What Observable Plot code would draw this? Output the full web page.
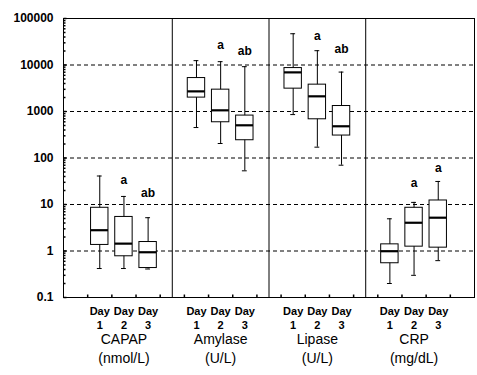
<!DOCTYPE html>
<html><head><meta charset="utf-8">
<script src="https://cdn.jsdelivr.net/npm/d3@7"></script>
<script src="https://cdn.jsdelivr.net/npm/@observablehq/plot@0.6"></script>
<style>
html,body{margin:0;padding:0;background:#fff;}
</style></head><body><div id="chart"></div>
<script>
// ---- data ----
const panels = ["CAPAP", "Amylase", "Lipase", "CRP"];
const units = ["(nmol/L)", "(U/L)", "(U/L)", "(mg/dL)"];
const days = ["1", "2", "3"];
const dayWord = "Day";
// box statistics, order: CAPAP d1..d3, Amylase d1..d3, Lipase d1..d3, CRP d1..d3
const lo  = [0.42, 0.42, 0.41,   452, 205, 53,     858, 171, 70,      0.2, 0.3, 0.62];
const q1  = [1.35, 0.77, 0.43,   1990, 587, 241,   3100, 680, 304,    0.545, 1.24, 1.18];
const med = [2.8, 1.44, 0.94,    2710, 1060, 505,  6940, 2120, 481,   0.99, 4.05, 5.2];
const q3  = [8.5, 5.4, 1.56,     5240, 2950, 817,  8590, 3780, 1312,  1.39, 8.5, 12.2];
const hi  = [41, 14.9, 5.2,      12400, 11800, 9200, 47000, 20300, 7040, 4.93, 11.1, 31.3];
const letters  = ["", "a", "ab",  "", "a", "ab",  "", "a", "ab",  "", "a", "a"];
const letterAt = [null, 33, 17.6, null, 26300, 19900, null, 41700, 21600, null, 28.4, 61.4];
const yTicks = [0.1, 1, 10, 100, 1000, 10000, 100000];
const gridAt = [1, 10, 100, 1000, 10000];

// ---- build tables ----
const rows = [];
panels.forEach((p, pi) => days.forEach((d, di) => {
  const i = pi * 3 + di;
  rows.push({panel: p, day: d, pos: pi * 4 + di + 1.5,
    lo: lo[i], q1: q1[i], med: med[i], q3: q3[i], hi: hi[i],
    letter: letters[i], letterAt: letterAt[i]});
}));
const panelRows = panels.map((p, pi) => ({name: p, unit: units[pi], pos: pi * 4 + 2.5}));
const dividers = panels.slice(1).map((p, pi) => (pi + 1) * 4 + 0.5);
const xTicks = d3.range(1, 17);
const minor = [];
for (let e = -1; e < 5; e++) for (let m = 2; m <= 9; m++) minor.push(+(m * Math.pow(10, e)).toPrecision(3));

const font = "'Liberation Sans', Arial, Helvetica, sans-serif";
const tickUp = {draw(ctx) { ctx.moveTo(0, 0); ctx.lineTo(0, -3); }};
const tickRight = len => ({draw(ctx) { ctx.moveTo(0, 0); ctx.lineTo(len, 0); }});
const bw = 0.36, cw = 0.1;

const chart = Plot.plot({
  width: 477, height: 375,
  marginLeft: 63, marginRight: 3, marginTop: 18, marginBottom: 78,
  style: {fontFamily: font, background: "#fff", color: "#000"},
  x: {domain: [0, 17], axis: null},
  y: {type: "log", domain: [0.1, 100000], axis: null},
  marks: [
    Plot.ruleY(gridAt, {stroke: "#000", strokeDasharray: "4,3"}),
    Plot.ruleX(dividers, {stroke: "#000"}),
    Plot.dot(xTicks, {x: d => d, frameAnchor: "bottom", symbol: tickUp, stroke: "#000", fill: "none"}),
    Plot.dot(minor, {y: d => d, frameAnchor: "left", symbol: tickRight(2), stroke: "#000", fill: "none"}),
    Plot.dot(yTicks, {y: d => d, frameAnchor: "left", symbol: tickRight(3), stroke: "#000", fill: "none"}),
    Plot.axisY({ticks: yTicks, tickSize: 0, tickPadding: 10, tickFormat: d => String(d),
      fontWeight: "bold", fontSize: 12, fill: "#000"}),
    Plot.frame({stroke: "#000"}),
    Plot.ruleX(rows, {x: "pos", y1: "lo", y2: "hi", stroke: "#000"}),
    Plot.ruleY(rows, {x1: d => d.pos - cw, x2: d => d.pos + cw, y: "hi", stroke: "#000"}),
    Plot.ruleY(rows, {x1: d => d.pos - cw, x2: d => d.pos + cw, y: "lo", stroke: "#000"}),
    Plot.rect(rows, {x1: d => d.pos - bw, x2: d => d.pos + bw, y1: "q1", y2: "q3", fill: "#fff", stroke: "#000"}),
    Plot.ruleY(rows, {x1: d => d.pos - bw, x2: d => d.pos + bw, y: "med", stroke: "#000", strokeWidth: 2.2}),
    Plot.text(rows.filter(d => d.letter), {x: "pos", y: "letterAt", text: "letter",
      fontWeight: "bold", fontSize: 12, fill: "#000"}),
    Plot.text(rows, {x: "pos", text: () => dayWord, frameAnchor: "bottom", dy: 17,
      fontWeight: "bold", fontSize: 11, fill: "#000"}),
    Plot.text(rows, {x: "pos", text: "day", frameAnchor: "bottom", dy: 31,
      fontWeight: "bold", fontSize: 11, fill: "#000"}),
    Plot.text(panelRows, {x: "pos", text: "name", frameAnchor: "bottom", dy: 46,
      fontSize: 14, fill: "#000"}),
    Plot.text(panelRows, {x: "pos", text: "unit", frameAnchor: "bottom", dy: 65,
      fontSize: 14, fill: "#000"})
  ]
});
document.getElementById("chart").appendChild(chart);
</script>
</body></html>
